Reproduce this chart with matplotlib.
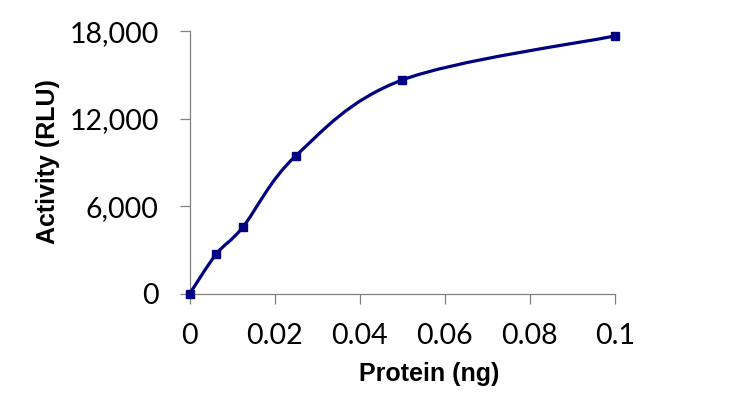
import numpy as np
import matplotlib.pyplot as plt
from matplotlib.path import Path
from matplotlib.patches import PathPatch

protein_ng = [0, 0.00625, 0.0125, 0.025, 0.05, 0.1]
activity_rlu = [0, 2720, 4570, 9470, 14660, 17680]
x_ticks = [0, 0.02, 0.04, 0.06, 0.08, 0.1]
x_tick_labels = ['0', '0.02', '0.04', '0.06', '0.08', '0.1']
y_ticks = [0, 6000, 12000, 18000]
y_tick_labels = ['0', '6,000', '12,000', '18,000']

NAVY = '#000080'
GREY = '#808080'
W, H = 735, 396


def smooth_path(ax, xs, ys):
    """Excel-like smoothed line: cubic Bezier segments, built in screen space."""
    trans = ax.transData
    pts = trans.transform(np.column_stack([xs, ys]))
    n = len(pts)
    verts = [pts[0]]
    codes = [Path.MOVETO]
    for i in range(n - 1):
        p0 = pts[max(i - 1, 0)]
        p1 = pts[i]
        p2 = pts[i + 1]
        p3 = pts[min(i + 2, n - 1)]
        c1 = p1 + (p2 - p0) / 6.0
        c2 = p2 - (p3 - p1) / 6.0
        verts += [c1, c2, p2]
        codes += [Path.CURVE4] * 3
    verts = trans.inverted().transform(np.array(verts))
    return Path(verts, codes)


fig = plt.figure(figsize=(W / 100, H / 100), dpi=100)
ax = fig.add_axes([189.7 / W, 1 - 293.7 / H, 425 / W, 262.4 / H])
ax.set_xlim(0, 0.1)
ax.set_ylim(0, 18000)

patch = PathPatch(smooth_path(ax, protein_ng, activity_rlu), facecolor='none',
                  edgecolor=NAVY, linewidth=2.3, clip_on=False, zorder=3)
ax.add_patch(patch)
ax.plot(protein_ng, activity_rlu, linestyle='none', marker='s', markersize=5.5,
        color=NAVY, clip_on=False, zorder=4)

for side in ('top', 'right'):
    ax.spines[side].set_visible(False)
for side in ('left', 'bottom'):
    ax.spines[side].set_color(GREY)
    ax.spines[side].set_linewidth(0.9)

ax.set_xticks(x_ticks)
ax.set_xticklabels(x_tick_labels)
ax.set_yticks(y_ticks)
ax.set_yticklabels(y_tick_labels)
ax.tick_params(direction='out', length=7.2, width=0.9, color=GREY,
               labelsize=20.5)
ax.tick_params(axis='y', pad=15)
ax.tick_params(axis='x', pad=14)
for lbl in ax.get_xticklabels() + ax.get_yticklabels():
    lbl.set_family('Lato')

# axis titles placed where the original has them (x title sits right of centre)
fig.text(429 / W, 1 - 374.5 / H, 'Protein (ng)', fontsize=18, fontweight='bold',
         family='Liberation Sans', ha='center', va='center')
fig.text(48.5 / W, 1 - 161.5 / H, 'Activity (RLU)', fontsize=18, fontweight='bold',
         family='Liberation Sans', ha='center', va='center', rotation=90)

fig.savefig('out.png', dpi=100)
